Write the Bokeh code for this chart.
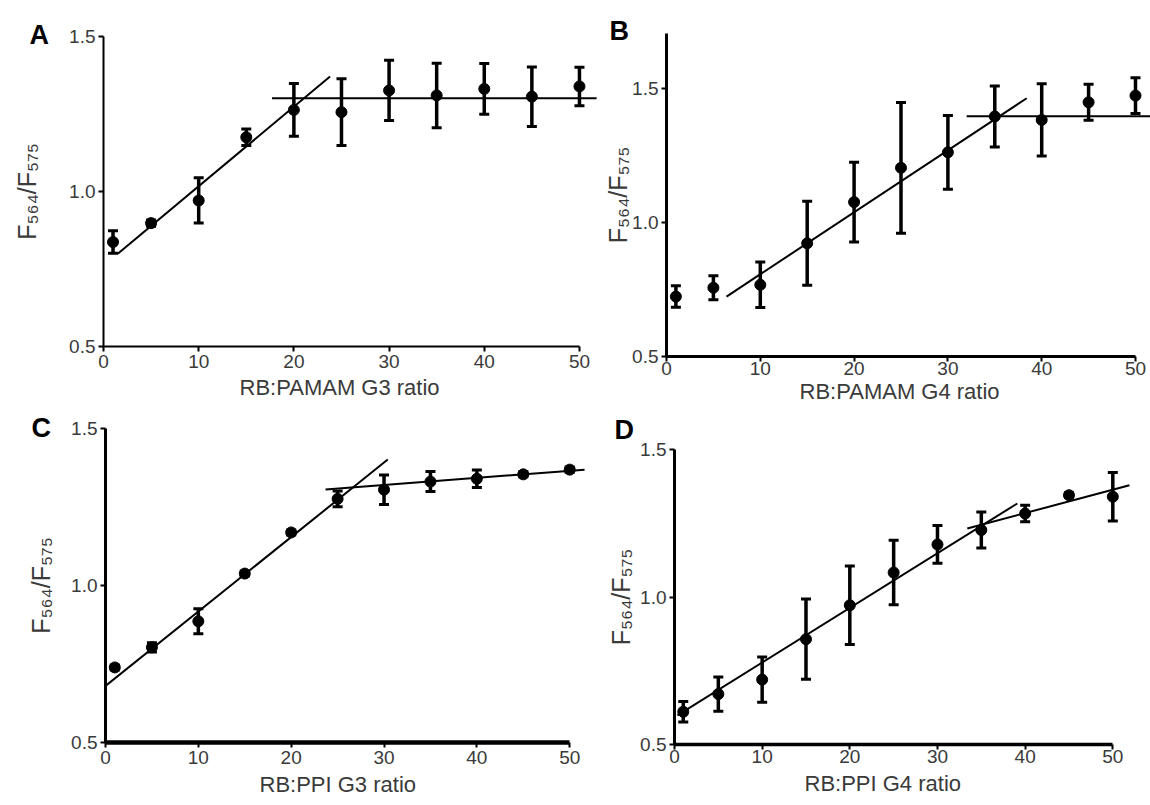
from bokeh.plotting import figure
from bokeh.models import Range1d, FixedTicker, Whisker, TeeHead, ColumnDataSource, Title
from bokeh.layouts import column, row
from bokeh.embed import file_html
from bokeh.resources import INLINE

# ---------------- data ----------------
ratio = [1, 5, 10, 15, 20, 25, 30, 35, 40, 45, 50]

a_mean = [0.837, 0.898, 0.971, 1.175, 1.263, 1.256, 1.326, 1.310, 1.331, 1.306, 1.339]
a_err = [0.036, 0.010, 0.073, 0.027, 0.085, 0.108, 0.097, 0.104, 0.082, 0.096, 0.062]
a_fit1_x = [1.5, 23.8]
a_fit1_y = [0.799, 1.371]
a_fit2_x = [17.7, 51.8]
a_fit2_y = [1.301, 1.301]

b_mean = [0.724, 0.757, 0.768, 0.923, 1.077, 1.205, 1.263, 1.397, 1.384, 1.450, 1.475]
b_err = [0.040, 0.045, 0.085, 0.157, 0.149, 0.244, 0.138, 0.114, 0.135, 0.067, 0.067]
b_fit1_x = [6.4, 38.4]
b_fit1_y = [0.724, 1.465]
b_fit2_x = [32.0, 51.7]
b_fit2_y = [1.398, 1.398]

c_mean = [0.739, 0.803, 0.886, 1.038, 1.169, 1.276, 1.305, 1.331, 1.340, 1.354, 1.369]
c_err = [0.008, 0.015, 0.040, 0.008, 0.008, 0.025, 0.047, 0.032, 0.028, 0.008, 0.008]
c_fit1_x = [0.0, 30.4]
c_fit1_y = [0.680, 1.401]
c_fit2_x = [23.7, 51.6]
c_fit2_y = [1.306, 1.369]

d_mean = [0.611, 0.671, 0.720, 0.857, 0.972, 1.083, 1.178, 1.227, 1.283, 1.345, 1.340]
d_err = [0.035, 0.058, 0.077, 0.136, 0.133, 0.109, 0.064, 0.061, 0.028, 0.008, 0.082]
d_fit1_x = [0.33, 39.1]
d_fit1_y = [0.599, 1.317]
d_fit2_x = [33.4, 51.9]
d_fit2_y = [1.232, 1.379]

x_ticks = [0, 10, 20, 30, 40, 50]
x_tick_labels = ["0", "10", "20", "30", "40", "50"]
y_ticks = [0.5, 1.0, 1.5]
y_tick_labels = ["0.5", "1.0", "1.5"]

letters = ["A", "B", "C", "D"]
x_titles = ["RB:PAMAM G3 ratio", "RB:PAMAM G4 ratio", "RB:PPI G3 ratio", "RB:PPI G4 ratio"]
y_title = "F\u2085\u2086\u2084/F\u2085\u2087\u2085"

FONT = "Liberation Sans"
GRAY = "#3a3a3a"


def panel(letter, xtitle, mean, err, fits, width, height, borders, xr, yr,
          xaxis_w, yaxis_w, tick_std_x, xt_offset, xt_standoff, ylab_std,
          let_offset, let_standoff):
    p = figure(width=width, height=height, output_backend="svg", toolbar_location=None,
               x_range=Range1d(*xr), y_range=Range1d(*yr),
               min_border_left=borders[0], min_border_right=borders[1],
               min_border_top=borders[2], min_border_bottom=borders[3])
    p.outline_line_color = None
    p.grid.visible = False
    p.background_fill_color = "white"
    p.border_fill_color = "white"

    for ax, w in ((p.xaxis[0], xaxis_w), (p.yaxis[0], yaxis_w)):
        ax.axis_line_width = w
        ax.axis_line_color = "black"
        ax.major_tick_line_width = 2
        ax.major_tick_line_color = "black"
        ax.major_tick_out = 5
        ax.major_tick_in = 0
        ax.minor_tick_line_color = None
        ax.major_label_text_font = FONT
        ax.major_label_text_font_size = "19px"
        ax.major_label_text_color = GRAY
        ax.major_label_standoff = 3
        ax.axis_label_text_font = FONT
        ax.axis_label_text_font_style = "normal"
        ax.axis_label_text_color = GRAY

    p.xaxis.ticker = FixedTicker(ticks=x_ticks)
    p.xaxis.major_label_overrides = dict(zip(x_ticks, x_tick_labels))
    p.xaxis.bounds = (0, 50)
    p.xaxis.major_label_standoff = tick_std_x
    p.yaxis.ticker = FixedTicker(ticks=y_ticks)
    p.yaxis.major_label_overrides = dict(zip(y_ticks, y_tick_labels))
    p.yaxis.axis_label = y_title
    p.yaxis.axis_label_standoff = ylab_std
    p.yaxis.axis_label_text_font_size = "25px"
    p.yaxis.bounds = (0.5, yr[1])

    # x-axis title, placed under the tick labels
    p.add_layout(Title(text=xtitle, align="left", offset=xt_offset, standoff=xt_standoff,
                       vertical_align="middle", text_font=FONT, text_font_style="normal",
                       text_font_size="22px", text_color=GRAY), "below")
    # panel letter
    p.add_layout(Title(text=letter, align="left", offset=let_offset, standoff=let_standoff,
                       text_font=FONT, text_font_style="bold", text_font_size="27px",
                       text_color="black"), "above")

    for fx, fy in fits:
        p.line(fx, fy, line_width=2, line_color="black")

    lower = [m - e for m, e in zip(mean, err)]
    upper = [m + e for m, e in zip(mean, err)]
    src = ColumnDataSource(dict(base=ratio, lower=lower, upper=upper))
    wh = Whisker(base="base", lower="lower", upper="upper", source=src,
                 line_width=3.5, line_color="black",
                 upper_head=TeeHead(size=10, line_width=3, line_color="black"),
                 lower_head=TeeHead(size=10, line_width=3, line_color="black"))
    p.add_layout(wh)
    p.scatter(ratio, mean, size=11, color="black")
    return p


# row 1 (408 px): A frame 36-346, B frame 33-356
pA = panel(letters[0], x_titles[0], a_mean, a_err,
           [(a_fit1_x, a_fit1_y), (a_fit2_x, a_fit2_y)],
           598, 408, (103, 0, 36, 62), (0, 52), (0.5, 1.5), 2, 2,
           3, 136, 7, 25, -74, -27)
pB = panel(letters[1], x_titles[1], b_mean, b_err,
           [(b_fit1_x, b_fit1_y), (b_fit2_x, b_fit2_y)],
           552, 408, (68, 0, 33, 52), (0, 51.6), (0.5, 1.707), 3, 3,
           0, 133, 0, -3, -57, -25)
# row 2 (397 px): C frame 428-742, D frame 449-744
pC = panel(letters[2], x_titles[2], c_mean, c_err,
           [(c_fit1_x, c_fit1_y), (c_fit2_x, c_fit2_y)],
           598, 397, (105, 0, 20, 63), (0, 53.1), (0.5, 1.5), 4.5, 3,
           3, 154, 8, 13, -74, -29)
pD = panel(letters[3], x_titles[3], d_mean, d_err,
           [(d_fit1_x, d_fit1_y), (d_fit2_x, d_fit2_y)],
           552, 397, (76, 0, 41, 61), (0, 54.3), (0.5, 1.5), 3.5, 3,
           0, 130, 8, 2, -60, 9)

layout = column(row(column(pA), column(pB), spacing=0),
                row(column(pC), column(pD), spacing=0), spacing=0)

open("out.html", "w").write(file_html(layout, INLINE))
